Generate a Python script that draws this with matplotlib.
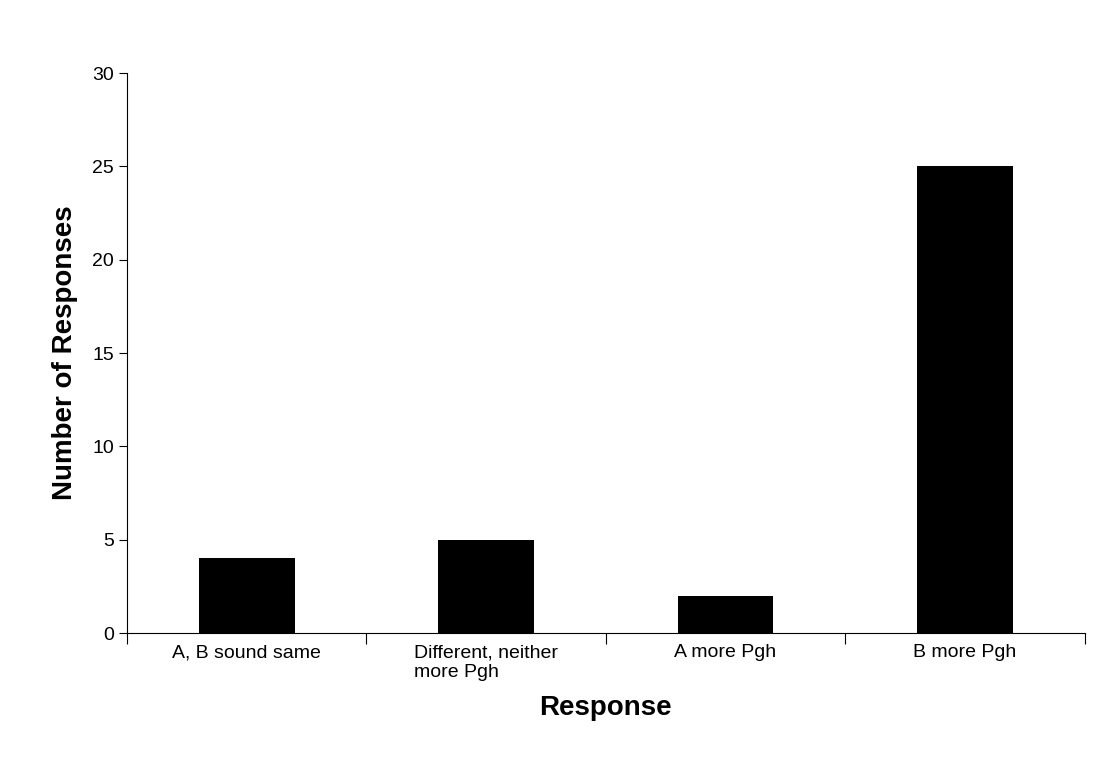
import matplotlib.pyplot as plt
import numpy as np

categories = ["A, B sound same", "Different, neither\nmore Pgh", "A more Pgh", "B more Pgh"]
counts = [4, 5, 2, 25]

plt.rcParams['font.family'] = ['Liberation Sans', 'DejaVu Sans']

fig = plt.figure(figsize=(11.09, 7.75), dpi=100)
ax = fig.add_axes([0.1145, 0.1832, 0.8635, 0.7226])

pos = np.arange(len(categories)) + 0.5
ax.bar(pos, counts, width=0.4, color='black')

ax.set_xlim(0, len(categories))
ax.set_ylim(0, 30)
ax.set_yticks(range(0, 31, 5))
ax.set_xticks(range(len(categories) + 1))
ax.set_xticklabels([])
ax.set_xticks(pos, minor=True)
ax.set_xticklabels(categories, minor=True, fontsize=14, multialignment='left')
ax.tick_params(axis='x', which='minor', length=0, pad=8)
ax.tick_params(axis='x', which='major', direction='out', length=8)
ax.tick_params(axis='y', direction='out', length=6, labelsize=14)

for s in ['top', 'right']:
    ax.spines[s].set_visible(False)

ax.set_xlabel('Response', fontsize=20, fontweight='bold', labelpad=10)
ax.set_ylabel('Number of Responses', fontsize=20, fontweight='bold', labelpad=10)

fig.savefig('out.png', dpi=100)
